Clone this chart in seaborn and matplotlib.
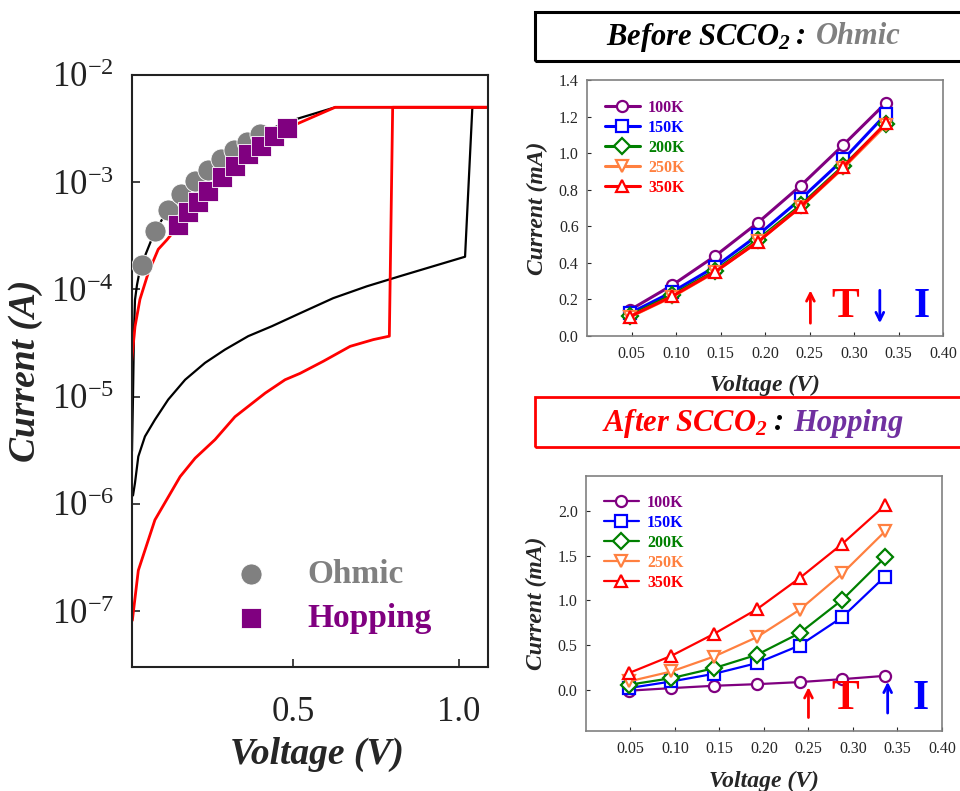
import numpy as np
import matplotlib
matplotlib.use("Agg")
import matplotlib.pyplot as plt
from matplotlib.patches import Rectangle
from matplotlib.ticker import NullLocator, FormatStrFormatter
import seaborn as sns

sns.set_style("ticks")
plt.rcParams['font.family'] = ['Liberation Serif', 'DejaVu Serif']
plt.rcParams['mathtext.fontset'] = 'custom'
plt.rcParams['mathtext.rm'] = 'Liberation Serif'
plt.rcParams['mathtext.it'] = 'Liberation Serif:italic'
plt.rcParams['mathtext.bf'] = 'Liberation Serif:bold:italic'

# ---- left panel: semilog I-V sweeps ----
v_black_hrs = [0.018, 0.024, 0.034, 0.054, 0.084, 0.124, 0.175, 0.235, 0.295, 0.365, 0.436, 0.521,
               0.621, 0.722, 0.822, 0.923, 1.018, 1.04, 1.09]
i_black_hrs = [1.2e-6, 1.57e-6, 2.77e-6, 4.26e-6, 6.1e-6, 9.4e-6, 1.44e-5, 2.07e-5, 2.75e-5, 3.67e-5,
               4.54e-5, 6.0e-5, 8.3e-5, 1.07e-4, 1.33e-4, 1.65e-4, 2.02e-4, 5e-3, 5e-3]

v_black_lrs = [0.015, 0.018, 0.021, 0.024, 0.030, 0.040, 0.084, 0.123, 0.163, 0.205, 0.244, 0.283,
               0.322, 0.361, 0.40, 0.45, 0.512, 0.627, 1.09]
i_black_lrs = [3.1e-6, 1e-5, 4e-5, 8e-5, 1.1e-4, 1.6e-4, 3.5e-4, 5.5e-4, 7.7e-4, 1.02e-3, 1.3e-3,
               1.64e-3, 2.0e-3, 2.37e-3, 2.8e-3, 3.3e-3, 3.9e-3, 5e-3, 5e-3]

v_red_hrs = [0.016, 0.034, 0.084, 0.16, 0.205, 0.265, 0.325, 0.416, 0.476, 0.521, 0.591, 0.672,
             0.742, 0.79, 0.80, 1.09]
i_red_hrs = [8.2e-8, 2.4e-7, 7.1e-7, 1.8e-6, 2.67e-6, 3.98e-6, 6.5e-6, 1.08e-5, 1.44e-5, 1.65e-5,
             2.14e-5, 2.95e-5, 3.41e-5, 3.67e-5, 5e-3, 5e-3]

v_red_lrs = [0.014, 0.024, 0.039, 0.064, 0.094, 0.12, 0.154, 0.184, 0.214, 0.244, 0.286, 0.325,
             0.364, 0.404, 0.443, 0.482, 0.512, 0.627, 1.09]
i_red_lrs = [2.14e-5, 4.5e-5, 8.1e-5, 1.43e-4, 2.37e-4, 2.9e-4, 3.9e-4, 5.2e-4, 6.6e-4, 8.2e-4,
             1.1e-3, 1.4e-3, 1.8e-3, 2.2e-3, 2.7e-3, 3.15e-3, 3.5e-3, 5e-3, 5e-3]

v_ohmic = [0.045, 0.084, 0.123, 0.163, 0.205, 0.244, 0.283, 0.322, 0.361, 0.40]
i_ohmic = [1.68e-4, 3.5e-4, 5.5e-4, 7.7e-4, 1.02e-3, 1.3e-3, 1.64e-3, 2.0e-3, 2.37e-3, 2.8e-3]
v_hop = [0.154, 0.184, 0.214, 0.244, 0.286, 0.325, 0.364, 0.404, 0.443, 0.482]
i_hop = [3.96e-4, 5.25e-4, 6.6e-4, 8.2e-4, 1.11e-3, 1.41e-3, 1.83e-3, 2.2e-3, 2.69e-3, 3.2e-3]

# ---- right panels: linear I-V at several temperatures (mA) ----
volt = [0.048, 0.096, 0.144, 0.192, 0.240, 0.288, 0.336]
temps = ['100K', '150K', '200K', '250K', '350K']
t_colors = ['#800080', '#0000FF', '#008000', '#FF8040', '#FF0000']
t_markers = ['o', 's', 'D', 'v', '^']

before_100K = [0.142, 0.279, 0.438, 0.620, 0.822, 1.045, 1.276]
before_150K = [0.124, 0.242, 0.379, 0.552, 0.749, 0.966, 1.214]
before_200K = [0.112, 0.226, 0.358, 0.527, 0.715, 0.930, 1.160]
before_250K = [0.104, 0.215, 0.350, 0.518, 0.705, 0.920, 1.155]
before_350K = [0.106, 0.218, 0.352, 0.515, 0.707, 0.925, 1.165]

after_100K = [-0.01, 0.019, 0.045, 0.063, 0.086, 0.119, 0.156]
after_150K = [0.019, 0.093, 0.179, 0.298, 0.495, 0.812, 1.266]
after_200K = [0.056, 0.130, 0.242, 0.391, 0.633, 1.006, 1.479]
after_250K = [0.093, 0.205, 0.372, 0.588, 0.894, 1.300, 1.770]
after_350K = [0.186, 0.380, 0.626, 0.900, 1.248, 1.631, 2.060]

before = dict(zip(temps, [before_100K, before_150K, before_200K, before_250K, before_350K]))
after = dict(zip(temps, [after_100K, after_150K, after_200K, after_250K, after_350K]))

fig = plt.figure(figsize=(9.6, 7.91), dpi=100)

# left panel
ax = fig.add_axes([0.1375, 0.1568, 0.3708, 0.7484])
ax.set_yscale('log')
for v, i, c, lw in [(v_black_hrs, i_black_hrs, 'black', 1.6),
                    (v_black_lrs, i_black_lrs, 'black', 1.6),
                    (v_red_hrs, i_red_hrs, '#FF0000', 2.0),
                    (v_red_lrs, i_red_lrs, '#FF0000', 2.0)]:
    sns.lineplot(x=v, y=i, ax=ax, color=c, lw=lw, sort=False, estimator=None)
sns.scatterplot(x=v_ohmic, y=i_ohmic, ax=ax, marker='o', s=230, color='#808080',
                edgecolor='white', linewidth=0.6, label='Ohmic', zorder=3)
sns.scatterplot(x=v_hop, y=i_hop, ax=ax, marker='s', s=210, color='#800080',
                edgecolor='white', linewidth=0.6, label='Hopping', zorder=4)
ax.set_xlim(0.015, 1.087)
ax.set_ylim(10 ** -7.52, 1e-2)
ax.set_xticks([0.5, 1.0])
ax.set_xticklabels(['0.5', '1.0'])
ax.set_yticks([1e-7, 1e-6, 1e-5, 1e-4, 1e-3, 1e-2])
ax.yaxis.set_minor_locator(NullLocator())
ax.tick_params(axis='both', direction='in', length=6, width=1.2, labelsize=25, colors='#222222')
ax.tick_params(axis='y', pad=13)
ax.tick_params(axis='x', pad=21)
for sp in ax.spines.values():
    sp.set_color('#222222')
    sp.set_linewidth(1.5)
ax.set_ylabel('Current (A)', fontsize=27, fontweight='bold', style='italic')
ax.set_xlabel('Voltage (V)', fontsize=27, fontweight='bold', style='italic', va='top')
ax.yaxis.set_label_coords(-0.25, 0.5)
ax.xaxis.set_label_coords(0.52, -0.118)
leg = ax.legend(loc='upper left', bbox_to_anchor=(0.288, 0.182), frameon=False,
                prop={'weight': 'bold', 'size': 24}, handlelength=1, handletextpad=1.2,
                labelspacing=0.38, borderpad=0, borderaxespad=0)
for t, c in zip(leg.get_texts(), ['#808080', '#800080']):
    t.set_color(c)


def iv_panel(ax, data, lw, ylim, yticks, yfmt, xlab_y, leg_top):
    for lab, col, mk in zip(temps, t_colors, t_markers):
        sns.lineplot(x=volt, y=data[lab], ax=ax, color=col, marker=mk, lw=lw, ms=8,
                     mfc='white', mec=col, mew=1.6, label=lab, estimator=None)
    ax.set_xlim(0, 0.40)
    ax.set_ylim(*ylim)
    ax.set_xticks([0.05, 0.10, 0.15, 0.20, 0.25, 0.30, 0.35, 0.40])
    ax.set_yticks(yticks)
    ax.xaxis.set_major_formatter(FormatStrFormatter('%.2f'))
    ax.yaxis.set_major_formatter(FormatStrFormatter(yfmt))
    ax.tick_params(axis='both', direction='in', length=3, width=0.8, labelsize=11.5)
    ax.tick_params(axis='x', pad=7)
    ax.tick_params(axis='y', pad=6)
    for sp in ax.spines.values():
        sp.set_color('#808080')
        sp.set_linewidth(1.2)
    ax.set_ylabel('Current (mA)', fontsize=17, fontweight='bold', style='italic')
    ax.set_xlabel('Voltage (V)', fontsize=17, fontweight='bold', style='italic', va='top')
    ax.yaxis.set_label_coords(-0.11, 0.5)
    ax.xaxis.set_label_coords(0.5, xlab_y)
    lg = ax.legend(loc='upper left', bbox_to_anchor=(0.05, leg_top), frameon=False,
                   prop={'weight': 'bold', 'size': 11.5}, handlelength=2.2,
                   handletextpad=0.5, labelspacing=0.25, borderpad=0, borderaxespad=0)
    for t, c in zip(lg.get_texts(), t_colors):
        t.set_color(c)


def arrow(ax, x, y0, y1, color):
    ax.annotate('', xy=(x, y1), xytext=(x, y0),
                arrowprops=dict(arrowstyle='->', color=color, lw=2, mutation_scale=14,
                                shrinkA=0, shrinkB=0))


ax_b = fig.add_axes([0.6115, 0.5752, 0.3708, 0.3236])
iv_panel(ax_b, before, 2.2, (0, 1.4), [0, 0.2, 0.4, 0.6, 0.8, 1.0, 1.2, 1.4], '%.1f', -0.152, 0.923)
arrow(ax_b, 0.251, 0.07, 0.25, '#FF0000')
arrow(ax_b, 0.329, 0.25, 0.07, '#0000FF')
ax_b.text(0.29, 0.16, 'T', color='#FF0000', fontsize=30, fontweight='bold', ha='center', va='center')
ax_b.text(0.376, 0.16, 'I', color='#0000FF', fontsize=30, fontweight='bold', ha='center', va='center')

ax_a = fig.add_axes([0.6104, 0.0759, 0.3708, 0.3224])
iv_panel(ax_a, after, 1.6, (-0.46, 2.39), [0, 0.5, 1.0, 1.5, 2.0], '%.1f', -0.155, 0.925)
arrow(ax_a, 0.25, -0.31, 0.03, '#FF0000')
arrow(ax_a, 0.339, -0.26, 0.09, '#0000FF')
ax_a.text(0.291, -0.1, 'T', color='#FF0000', fontsize=30, fontweight='bold', ha='center', va='center')
ax_a.text(0.376, -0.1, 'I', color='#0000FF', fontsize=30, fontweight='bold', ha='center', va='center')

# title boxes
fig.patches.append(Rectangle((535 / 960, 1 - 61 / 791), 0.5, 49 / 791, transform=fig.transFigure,
                             fill=False, ec='black', lw=2.2))
fig.patches.append(Rectangle((535 / 960, 1 - 447 / 791), 0.5, 50 / 791, transform=fig.transFigure,
                             fill=False, ec='#FF0000', lw=2.0))


def rich_text(pieces, xc, y):
    r = fig.canvas.get_renderer()
    items = []
    for s, c, gap in pieces:
        t = fig.text(0, y, s, color=c, va='center', ha='left', fontsize=22,
                     fontweight='bold', style='italic')
        items.append((t, t.get_window_extent(r).width, gap))
    total = sum(w + g for _, w, g in items)
    x = xc * fig.bbox.width - total / 2
    for t, w, g in items:
        t.set_x(x / fig.bbox.width)
        x += w + g


rich_text([(r'Before SCCO$_\mathbf{2}$', 'black', 6), (':', 'black', 9), ('Ohmic', '#808080', 0)],
          753 / 960, 1 - 37 / 791)
rich_text([(r'After SCCO$_\mathbf{2}$', '#FF0000', 6), (':', 'black', 9), ('Hopping', '#7030A0', 0)],
          753 / 960, 1 - 423 / 791)

fig.savefig('out.png', dpi=100)
